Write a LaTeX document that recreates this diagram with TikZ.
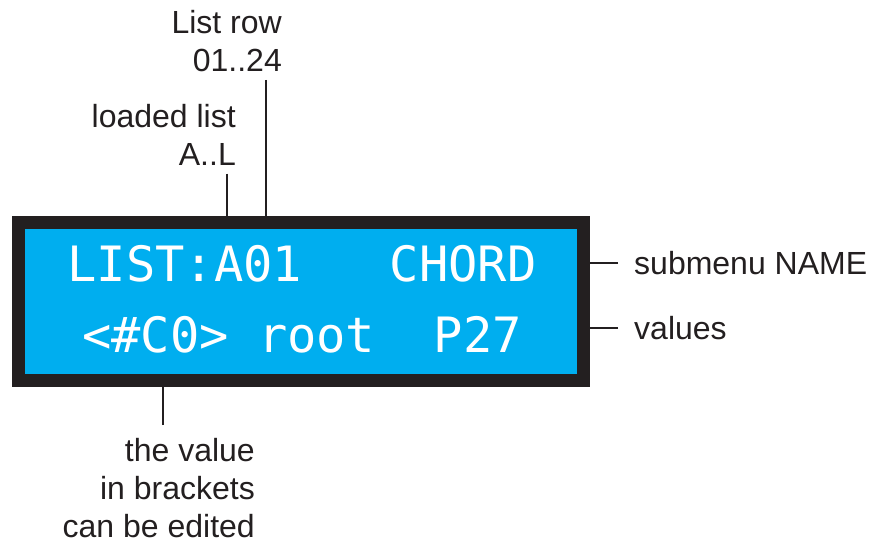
\documentclass[tikz,border=0pt]{standalone}
\usepackage{fontspec}
\setmainfont{Liberation Sans}
\newfontfamily\lcdfont{DejaVu Sans Mono}
\usepackage{tikz}
\definecolor{lcdblue}{HTML}{00AEEF}
\definecolor{lcdframe}{HTML}{231F20}
\begin{document}
\begin{tikzpicture}[x=1pt, y=-1pt,
  lbl/.style={inner sep=0, text=lcdframe, font=\fontsize{32}{38}\selectfont},
  lead/.style={draw=lcdframe, line width=2pt}]
\useasboundingbox (0,0) rectangle (874,542);
\node [draw=lcdframe, line width=13pt, fill=lcdblue, minimum width=565pt, minimum height=158pt, inner sep=0] (lcd) at (301,301.5) {};
\node [anchor=base, white, inner sep=0, font=\lcdfont\fontsize{48.7}{48.7}\selectfont] (rowtop) at (302,281) {LIST:A01\ \ \ CHORD};
\node [anchor=base, white, inner sep=0, font=\lcdfont\fontsize{48.7}{48.7}\selectfont] (rowbot) at (302,352) {<\#C0>\ root\ \ P27};
\node [lbl, align=right, anchor=north east] (listrow) at (282,10) {List row\\01..24};
\node [lbl, align=right, anchor=north east] (loaded) at (236,104) {loaded list\\A..L};
\node [lbl, anchor=west] (submenu) at (634,263) {submenu NAME};
\node [lbl, anchor=west] (values) at (634,328) {values};
\node [lbl, align=right, anchor=north east] (brackets) at (255,438) {the value\\in brackets\\can be edited};
\draw [lead] ([xshift=-16pt, yshift=-8pt]listrow.south east) -- ([xshift=-16pt]listrow.south east |- lcd.north);
\draw [lead] ([xshift=-9pt, yshift=-8pt]loaded.south east) -- ([xshift=-9pt]loaded.south east |- lcd.north);
\draw [lead] ([xshift=-16pt]submenu.west) -- (lcd.east |- submenu.west);
\draw [lead] ([xshift=-16pt]values.west) -- ([xshift=-6.5pt]lcd.east |- values.west);
\draw [lead] ([xshift=-92pt, yshift=13pt]brackets.north east) -- ([xshift=-92pt]brackets.north east |- lcd.south);
\end{tikzpicture}
\end{document}
